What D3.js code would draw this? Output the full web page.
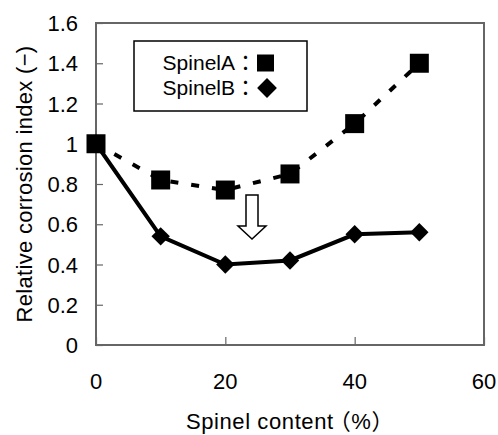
<!DOCTYPE html>
<html><head><meta charset="utf-8">
<script src="https://cdn.jsdelivr.net/npm/d3@7"></script>
<style>body{margin:0;background:#fff;}text{font-family:"Liberation Sans","Noto Sans CJK JP",sans-serif;}</style>
</head><body>
<svg id="c" width="498" height="435"></svg>
<script>
const spinelContent = [0, 10, 20, 30, 40, 50];
const spinelA = [1.0, 0.82, 0.77, 0.85, 1.1, 1.4];
const spinelB = [1.0, 0.54, 0.40, 0.42, 0.55, 0.56];
const xTicks = [0, 20, 40, 60];
const yTicks = [0, 0.2, 0.4, 0.6, 0.8, 1.0, 1.2, 1.4, 1.6];
const legendLabels = ["SpinelA：", "SpinelB："];
const xTitleParts = ["Spinel content", "（%）"];
const yTitle = "Relative corrosion index (−)";

const svg = d3.select("#c");
const L = 96, R = 484, T = 23, B = 345;
const x = d3.scaleLinear().domain([0, 60]).range([L, R]);
const y = d3.scaleLinear().domain([0, 1.6]).range([B, T]);
const axisCol = "#666";

svg.append("rect").attr("x", L).attr("y", T).attr("width", R - L).attr("height", B - T)
  .attr("fill", "none").attr("stroke", axisCol).attr("stroke-width", 2);

const yAx = svg.append("g").attr("transform", `translate(${L},0)`)
  .call(d3.axisRight(y).tickValues(yTicks).tickSize(7).tickFormat(""));
yAx.select(".domain").remove();
yAx.selectAll("line").attr("stroke", axisCol).attr("stroke-width", 1.2);
svg.append("g").selectAll("text").data(yTicks).join("text")
  .attr("x", 78).attr("y", d => y(d) + 8).attr("text-anchor", "end")
  .attr("font-size", 22).text(d => d === 1 ? "1" : (d === 0 ? "0" : d.toFixed(1)));

const xAx = svg.append("g").attr("transform", `translate(0,${B})`)
  .call(d3.axisTop(x).tickValues(xTicks).tickSize(8).tickFormat(""));
xAx.select(".domain").remove();
xAx.selectAll("line").attr("stroke", axisCol).attr("stroke-width", 1.2);
svg.append("g").selectAll("text").data(xTicks).join("text")
  .attr("x", d => x(d)).attr("y", 389).attr("text-anchor", "middle")
  .attr("font-size", 22).text(d => d);

const xt = svg.append("text").attr("x", (L + R) / 2).attr("y", 429).attr("text-anchor", "middle")
  .attr("font-size", 22).attr("letter-spacing", 0.6);
xt.append("tspan").text(xTitleParts[0]);
xt.append("tspan").attr("dx", -5).text(xTitleParts[1]);
svg.append("text").attr("transform", `translate(32,${(T + B) / 2}) rotate(-90)`)
  .attr("text-anchor", "middle").attr("font-size", 22).attr("letter-spacing", 0.3).text(yTitle);

const line = d3.line().x((d, i) => x(spinelContent[i])).y(d => y(d));
svg.append("path").datum(spinelA).attr("d", line).attr("fill", "none")
  .attr("stroke", "#000").attr("stroke-width", 4).attr("stroke-dasharray", "8,13");
svg.append("path").datum(spinelB).attr("d", line).attr("fill", "none")
  .attr("stroke", "#000").attr("stroke-width", 4);

const sq = d3.symbol().type(d3.symbolSquare).size(19 * 19);
const dm = d3.symbol().type(d3.symbolSquare).size(13 * 13);
svg.append("g").selectAll("path").data(spinelB).join("path")
  .attr("transform", (d, i) => `translate(${x(spinelContent[i])},${y(d)}) rotate(45)`).attr("d", dm).attr("fill", "#000");
svg.append("g").selectAll("path").data(spinelA).join("path")
  .attr("transform", (d, i) => `translate(${x(spinelContent[i])},${y(d)})`).attr("d", sq).attr("fill", "#000");

svg.append("rect").attr("x", 134).attr("y", 41).attr("width", 173).attr("height", 70)
  .attr("fill", "#fff").attr("stroke", "#000").attr("stroke-width", 1.5);
svg.append("g").selectAll("text").data(legendLabels).join("text")
  .attr("x", 256).attr("y", (d, i) => 70 + i * 25).attr("text-anchor", "end")
  .attr("font-size", 21).text(d => d);
svg.append("path").attr("transform", "translate(265.5,63)")
  .attr("d", d3.symbol().type(d3.symbolSquare).size(17 * 17)).attr("fill", "#000");
svg.append("path").attr("transform", "translate(267,88) rotate(45)")
  .attr("d", d3.symbol().type(d3.symbolSquare).size(14 * 14)).attr("fill", "#000");

const ax = 252;
svg.append("path").attr("d",
  `M${ax - 6},195 L${ax + 6},195 L${ax + 6},226 L${ax + 14},226 L${ax},239 L${ax - 14},226 L${ax - 6},226 Z`)
  .attr("fill", "#fff").attr("stroke", "#000").attr("stroke-width", 1.5);
</script>
</body></html>
